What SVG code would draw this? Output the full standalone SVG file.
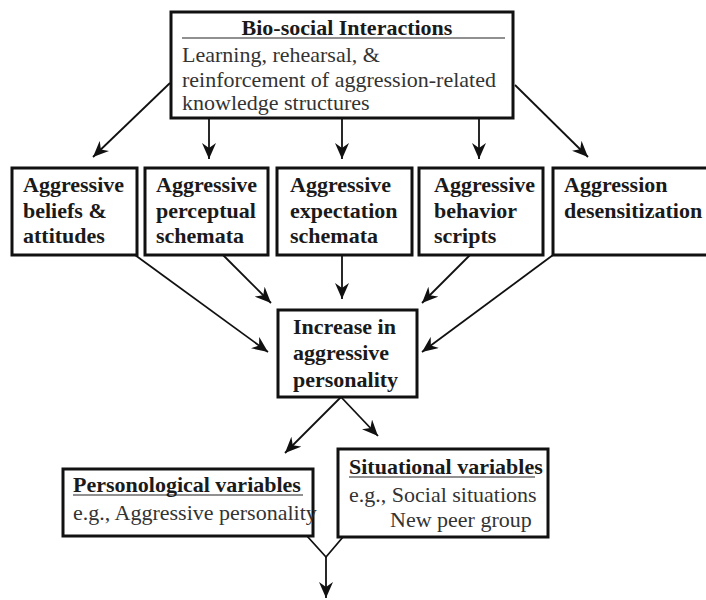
<svg xmlns="http://www.w3.org/2000/svg" width="706" height="600" viewBox="0 0 706 600">
<defs>
<style>
.box{fill:#fff;stroke:#111;stroke-width:3}
.b{font-family:"Liberation Serif","Times New Roman",serif;font-size:22px;font-weight:bold;fill:#1a1a1a}
.r{font-family:"Liberation Serif","Times New Roman",serif;font-size:22px;fill:#333}
.c{stroke:#111;stroke-width:1.8;fill:none}
.ul{stroke:#222;stroke-width:1.2}
</style>
<marker id="ah" viewBox="0 0 16 14" refX="16" refY="7" markerWidth="16" markerHeight="14" markerUnits="userSpaceOnUse" orient="auto">
<path d="M0,0 L16,7 L0,14 L5,7 Z" fill="#111"/>
</marker>
</defs>
<rect width="706" height="600" fill="#fff"/>
<g id="connectors">
<line class="c" x1="170" y1="83" x2="93" y2="157" marker-end="url(#ah)"/>
<line class="c" x1="209" y1="118" x2="209" y2="159" marker-end="url(#ah)"/>
<line class="c" x1="342" y1="118" x2="342" y2="159" marker-end="url(#ah)"/>
<line class="c" x1="479" y1="118" x2="479" y2="159" marker-end="url(#ah)"/>
<line class="c" x1="515" y1="85" x2="588" y2="157" marker-end="url(#ah)"/>
<line class="c" x1="135" y1="255" x2="268" y2="352" marker-end="url(#ah)"/>
<line class="c" x1="223" y1="255" x2="271" y2="303" marker-end="url(#ah)"/>
<line class="c" x1="342" y1="255" x2="342" y2="299" marker-end="url(#ah)"/>
<line class="c" x1="470" y1="255" x2="422" y2="303" marker-end="url(#ah)"/>
<line class="c" x1="553" y1="255" x2="422" y2="352" marker-end="url(#ah)"/>
<line class="c" x1="341" y1="397" x2="285" y2="453" marker-end="url(#ah)"/>
<line class="c" x1="341" y1="397" x2="378" y2="436" marker-end="url(#ah)"/>
<polyline class="c" points="307,536 326,557 343,537"/>
<line class="c" x1="326" y1="557" x2="326" y2="598" marker-end="url(#ah)"/>
</g>
<g id="biosocial">
<rect class="box" x="171" y="12" width="342" height="106"/>
<text class="b" x="347" y="35" text-anchor="middle">Bio-social Interactions</text>
<line class="ul" x1="182" y1="38" x2="505" y2="38"/>
<text class="r" x="182" y="62">Learning, rehearsal, &amp;</text>
<text class="r" x="182" y="87">reinforcement of aggression-related</text>
<text class="r" x="182" y="110">knowledge structures</text>
</g>
<g id="beliefs">
<rect class="box" x="12" y="168" width="125" height="87"/>
<text class="b" x="23" y="192">Aggressive</text>
<text class="b" x="23" y="218">beliefs &amp;</text>
<text class="b" x="23" y="243">attitudes</text>
</g>
<g id="perceptual">
<rect class="box" x="145" y="168" width="123" height="87"/>
<text class="b" x="156" y="192">Aggressive</text>
<text class="b" x="156" y="218">perceptual</text>
<text class="b" x="156" y="243">schemata</text>
</g>
<g id="expectation">
<rect class="box" x="277" y="168" width="135" height="87"/>
<text class="b" x="290" y="192">Aggressive</text>
<text class="b" x="290" y="218">expectation</text>
<text class="b" x="290" y="243">schemata</text>
</g>
<g id="scripts">
<rect class="box" x="419" y="168" width="124" height="87"/>
<text class="b" x="434" y="192">Aggressive</text>
<text class="b" x="434" y="218">behavior</text>
<text class="b" x="434" y="243">scripts</text>
</g>
<g id="desensitization">
<rect class="box" x="553" y="168" width="160" height="87"/>
<text class="b" x="564" y="192">Aggression</text>
<text class="b" x="564" y="218">desensitization</text>
</g>
<g id="increase">
<rect class="box" x="278" y="310" width="139" height="87"/>
<text class="b" x="293" y="334">Increase in</text>
<text class="b" x="293" y="360">aggressive</text>
<text class="b" x="293" y="387">personality</text>
</g>
<g id="personological">
<rect class="box" x="63" y="469" width="250" height="67"/>
<text class="b" x="73" y="492">Personological variables</text>
<line class="ul" x1="73" y1="495" x2="303" y2="495"/>
<text class="r" x="73" y="520">e.g., Aggressive personality</text>
</g>
<g id="situational">
<rect class="box" x="338" y="449" width="210" height="88"/>
<text class="b" x="349" y="474">Situational variables</text>
<line class="ul" x1="349" y1="477" x2="535" y2="477"/>
<text class="r" x="349" y="502">e.g., Social situations</text>
<text class="r" x="390" y="527">New peer group</text>
</g>
</svg>
